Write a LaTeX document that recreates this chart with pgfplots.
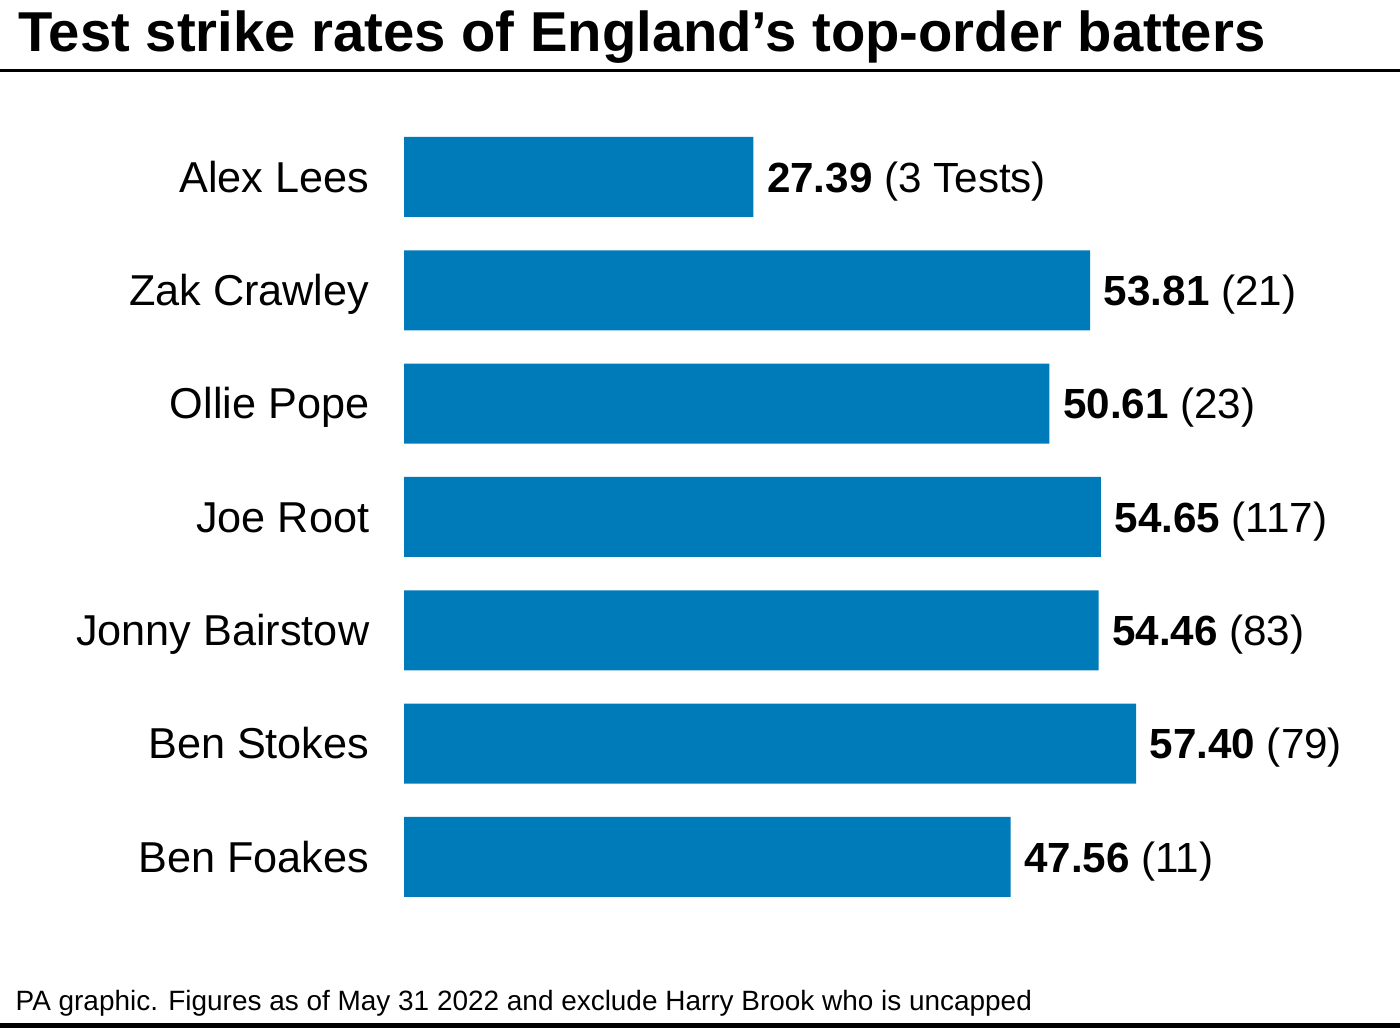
\documentclass[border=0pt]{standalone}
\usepackage{fontspec}
\setmainfont{Liberation Sans}
\usepackage{pgfplots}
\pgfplotsset{compat=1.18}
\usepackage{pgfplotstable}
\definecolor{pablue}{RGB}{0,123,186}

\pgfplotstableread[col sep=comma]{
pos,rate,lab
0,27.39,{\textbf{27.39} (3 Tests)}
1,53.81,{\textbf{53.81} (21)}
2,50.61,{\textbf{50.61} (23)}
3,54.65,{\textbf{54.65} (117)}
4,54.46,{\textbf{54.46} (83)}
5,57.40,{\textbf{57.40} (79)}
6,47.56,{\textbf{47.56} (11)}
}\ratedata

\begin{document}
\begin{tikzpicture}
\path[use as bounding box] (0,0) rectangle (140mm,-102.8mm);
% title and rules
\node[anchor=base west, inner sep=0pt, font=\fontsize{16}{18}\selectfont\bfseries]
  at (1.8mm,-5.2mm) {Test strike rates of England’s top-order batters};
\draw[line width=0.28mm] (0,-7.05mm) -- (140mm,-7.05mm);
\fill[black] (0,-102.3mm) rectangle (140mm,-102.8mm);
\node[anchor=base west, inner sep=0pt, font=\fontsize{7.95}{10}\selectfont]
  at (1.5mm,-101.0mm) {PA graphic. Figures as of May 31 2022 and exclude Harry Brook who is uncapped};

\begin{axis}[
    at={(40.4mm,-91.36mm)}, anchor=south west,
    scale only axis,
    width=99.6mm, height=79.33mm,
    xmin=0, xmax=78.1,
    ymin=-0.5, ymax=6.5,
    y dir=reverse,
    xbar, bar width=8mm, bar shift=0pt,
    axis line style={draw=none},
    major tick length=0pt,
    xtick=\empty,
    ytick={0,1,2,3,4,5,6},
    yticklabels={Alex Lees,Zak Crawley,Ollie Pope,Joe Root,Jonny Bairstow,Ben Stokes,Ben Foakes},
    yticklabel style={anchor=base east, inner sep=0pt, xshift=-3.4mm, yshift=-4.3pt,
        font=\fontsize{12.3}{14}\selectfont},
    clip=false,
    point meta=explicit symbolic,
    nodes near coords={\pgfplotspointmeta},
    nodes near coords style={anchor=base west, inner sep=0pt, xshift=1.3mm, yshift=-4.3pt,
        font=\fontsize{12}{14}\selectfont, text=black},
]
\addplot[fill=pablue, draw=none] table[x=rate, y=pos, meta=lab] {\ratedata};
\end{axis}
\end{tikzpicture}
\end{document}
